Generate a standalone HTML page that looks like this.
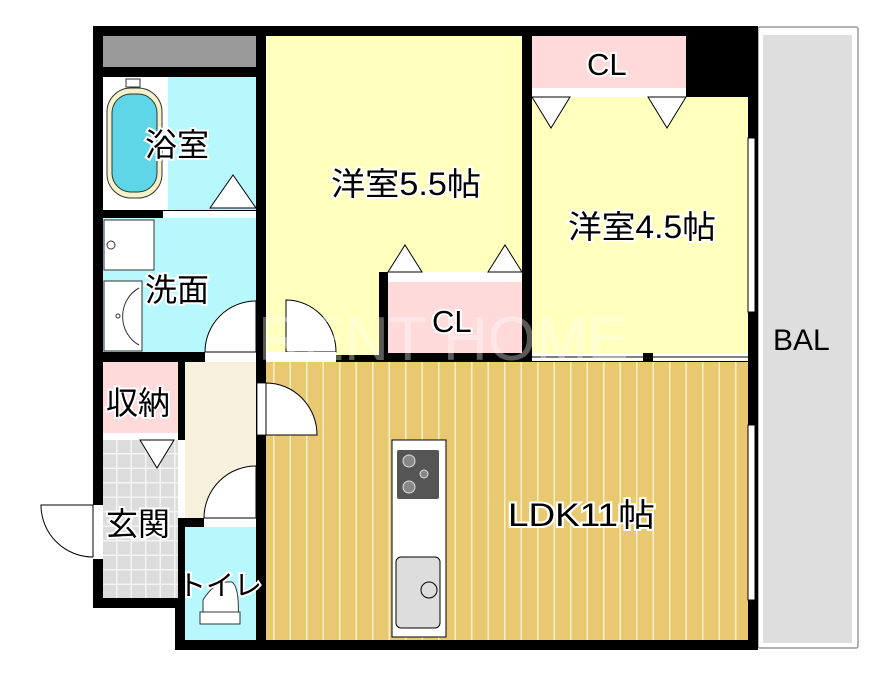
<!DOCTYPE html>
<html><head><meta charset="utf-8"><style>
html,body{margin:0;padding:0;background:#fff;}
svg{display:block;}
text{font-family:"Liberation Sans","Noto Sans CJK JP",sans-serif;}
</style></head><body>
<svg width="896" height="676" viewBox="0 0 896 676" xmlns="http://www.w3.org/2000/svg">
<defs>
<pattern id="fl" x="266" y="0" width="16.5" height="10" patternUnits="userSpaceOnUse">
<rect width="16.5" height="10" fill="#e8c870"/><rect x="7" width="1.5" height="10" fill="#fbf0c8"/>
</pattern>
<pattern id="tile" x="103" y="440" width="14.5" height="14.5" patternUnits="userSpaceOnUse">
<rect width="14.5" height="14.5" fill="#dcdcdc"/><rect x="13" width="1.5" height="14.5" fill="#f4f4f4"/><rect y="13" width="14.5" height="1.5" fill="#f4f4f4"/>
</pattern>
</defs>
<rect x="758" y="27" width="100" height="621" fill="#fff" stroke="#999" stroke-width="1.5" rx="2"/>
<rect x="763" y="35" width="89" height="608" fill="#dedede"/>
<rect x="93" y="26" width="665" height="624" fill="#000"/>
<rect x="93" y="608" width="82" height="42" fill="#fff"/>
<rect x="103" y="36" width="153" height="31" fill="#9a9a9a"/>
<rect x="103" y="77" width="153" height="133" fill="#b6f8fc"/>
<rect x="103" y="77" width="65" height="133" fill="#fff"/>
<rect x="107" y="88" width="55" height="110" rx="24" fill="#f5f1c8" stroke="#333" stroke-width="1"/>
<rect x="112" y="94" width="45" height="98" rx="19" fill="#5ed6e8" stroke="#333" stroke-width="1"/>
<rect x="126" y="79" width="14" height="8" fill="#fff" stroke="#333" stroke-width="1"/>
<polygon points="210,208 233,175 256,208" fill="#fff" stroke="#000" stroke-width="1"/>
<rect x="163" y="211" width="93" height="7" fill="#fff"/>
<rect x="103" y="218" width="153" height="134" fill="#b6f8fc"/>
<rect x="104" y="220" width="50" height="50" fill="#fff" stroke="#333" stroke-width="1"/>
<circle cx="111" cy="245" r="4" fill="none" stroke="#333"/>
<rect x="104" y="281" width="38" height="70" fill="#fff" stroke="#333" stroke-width="1"/>
<path d="M139,288 A30,32 0 0 0 139,345" fill="none" stroke="#333"/>
<circle cx="118" cy="316" r="2" fill="none" stroke="#333"/>
<rect x="266" y="36" width="256" height="319" fill="#ffffbe"/>
<rect x="379" y="272" width="143" height="83" fill="#000"/>
<rect x="388" y="272" width="134" height="10" fill="#fff"/>
<rect x="388" y="282" width="134" height="71" fill="#ffdada"/>
<polygon points="388,272 405,245 422,272" fill="#fff" stroke="#000"/>
<polygon points="488,272 505,245 522,272" fill="#fff" stroke="#000"/>
<rect x="532" y="97" width="216" height="256" fill="#ffffbe"/>
<rect x="532" y="36" width="154" height="52" fill="#ffdada"/>
<rect x="532" y="88" width="154" height="9" fill="#fff"/>
<polygon points="532,97 551,128 570,97" fill="#fff" stroke="#000"/>
<polygon points="648,97 667,128 686,97" fill="#fff" stroke="#000"/>
<rect x="748" y="138" width="7" height="174" fill="#fff" stroke="#000"/>
<rect x="532" y="353" width="216" height="8" fill="#fff"/>
<line x1="532" y1="357" x2="643" y2="357" stroke="#000"/>
<rect x="643" y="353" width="10" height="8" fill="#000"/>
<line x1="653" y1="357" x2="748" y2="357" stroke="#000"/>
<rect x="266" y="362" width="482" height="278" fill="url(#fl)"/>
<rect x="748" y="425" width="7" height="175" fill="#fff" stroke="#000"/>
<rect x="392" y="440" width="54" height="197" fill="#fff" stroke="#000"/>
<rect x="397" y="450" width="42" height="49" fill="#555" rx="2"/>
<circle cx="409" cy="461" r="6" fill="#888" stroke="#ddd"/>
<circle cx="409" cy="487" r="6" fill="#888" stroke="#ddd"/>
<circle cx="424" cy="474" r="4" fill="#888" stroke="#ddd"/>
<rect x="396" y="557" width="44" height="71" rx="5" fill="#ddd" stroke="#000"/>
<circle cx="429" cy="590" r="8" fill="#ddd" stroke="#000"/>
<rect x="205" y="352" width="51" height="10" fill="#fff"/>
<path d="M205,352 A51,51 0 0 1 256,301 L256,352 Z" fill="#fff" stroke="#000"/>
<rect x="266" y="352" width="113" height="3" fill="#ffffbe"/>
<path d="M286,300 A50,52 0 0 1 336,352 L286,352 Z" fill="#fff" stroke="#000"/>
<rect x="266" y="352" width="70" height="10" fill="#fff"/>
<rect x="185" y="362" width="71" height="156" fill="#f7f0dd"/>
<rect x="178" y="440" width="7" height="78" fill="#fff"/>
<rect x="257" y="383" width="9" height="52" fill="#fff" stroke="#000" stroke-width="0.8"/>
<path d="M266,383 A51,52 0 0 1 317,435 L266,435 Z" fill="#fff" stroke="#000"/>
<rect x="204" y="518" width="52" height="9" fill="#fff"/>
<path d="M204,518 A52,52 0 0 1 256,466 L256,518 Z" fill="#fff" stroke="#000"/>
<rect x="103" y="362" width="75" height="71" fill="#ffdada"/>
<rect x="103" y="433" width="75" height="7" fill="#fff"/>
<rect x="103" y="440" width="75" height="158" fill="url(#tile)"/>
<polygon points="140,440 157,468 174,440" fill="#fff" stroke="#000"/>
<rect x="93" y="505" width="10" height="54" fill="#fff"/>
<path d="M93,505 L41,505 A52,52 0 0 0 93,557 Z" fill="#fff" stroke="#000"/>
<rect x="185" y="527" width="71" height="113" fill="#b6f8fc"/>
<path d="M203,622 L203,600 Q215,580 232,582 Q240,588 238,622 Z" fill="#fff" stroke="#333"/>
<rect x="200" y="612" width="40" height="12" fill="#fff" stroke="#333"/>
<text x="258" y="360" font-size="62" fill="#fff" fill-opacity="0.35">RENT HOME</text>
<g fill="#000" stroke="#fff" stroke-width="4" paint-order="stroke">
<text x="145" y="156" font-size="32">浴室</text>
<text x="145" y="301" font-size="32">洗面</text>
<text x="331" y="195" font-size="32" textLength="150" lengthAdjust="spacingAndGlyphs">洋室5.5帖</text>
<text x="568" y="238" font-size="32" textLength="148" lengthAdjust="spacingAndGlyphs">洋室4.5帖</text>
<text x="432" y="332" font-size="31">CL</text>
<text x="587" y="75" font-size="31">CL</text>
<text x="106" y="414" font-size="32">収納</text>
<text x="106" y="535" font-size="32">玄関</text>
<text x="178" y="595" font-size="28">トイレ</text>
<text x="508" y="526" font-size="32" textLength="147" lengthAdjust="spacingAndGlyphs">LDK11帖</text>
<text x="773" y="350" font-size="30" stroke="none">BAL</text>
</g>
</svg>
</body></html>
